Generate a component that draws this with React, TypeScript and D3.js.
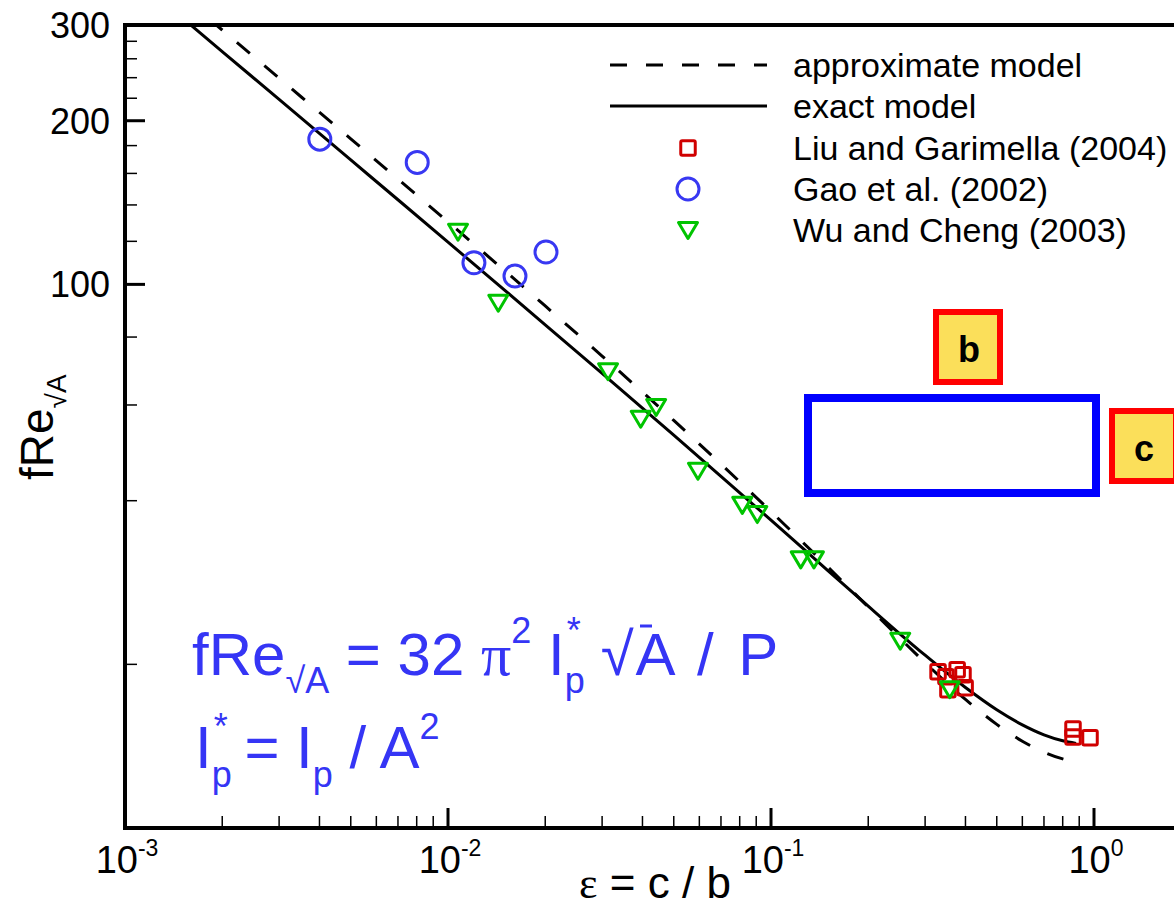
import React from "react";
import * as d3 from "d3";

// Aspect ratio samples for the two model curves
const modelEps = [0.0015, 0.002, 0.003, 0.005, 0.007, 0.01, 0.015, 0.02, 0.03, 0.05, 0.07, 0.1, 0.15, 0.2, 0.25, 0.3, 0.4, 0.5, 0.6, 0.7, 0.8, 0.88];
const exactModel = [309.7, 268.1, 218.9, 169.4, 143.1, 119.6, 97.47, 84.27, 68.58, 52.79, 44.36, 36.83, 29.76, 25.59, 22.79, 20.79, 18.13, 16.5, 15.48, 14.84, 14.47, 14.31];
const approxModel = [339.3, 293.7, 239.5, 185.2, 156.2, 130.3, 105.9, 91.26, 73.83, 56.19, 46.71, 38.21, 30.21, 25.5, 22.37, 20.14, 17.24, 15.51, 14.44, 13.79, 13.4, 13.24];

// Experimental data
const liuEps = [0.329, 0.348, 0.377, 0.393, 0.353, 0.399, 0.861, 0.861, 0.972];
const liuF = [19.38, 18.97, 19.54, 19.13, 17.96, 18.11, 15.21, 14.7, 14.65];

const gaoEps = [0.00401, 0.00803, 0.01203, 0.01612, 0.02011];
const gaoF = [185.0, 167.6, 109.6, 103.6, 114.7];

const wuEps = [0.01074, 0.01431, 0.0313, 0.0395, 0.0441, 0.0594, 0.0815, 0.0907, 0.1236, 0.1358, 0.2513, 0.3576];
const wuF = [125.0, 92.5, 69.2, 56.6, 59.5, 45.4, 39.3, 37.8, 31.2, 31.2, 22.1, 18.0];

// Axis ticks
const xTickExps = [-3, -2, -1, 0];
const yMajorTicks = [100, 200, 300];
const yMinorTicks = [20, 40, 60, 80, 120, 140, 160, 180, 220, 240, 260, 280];

const legendLabels = ["approximate model", "exact model", "Liu and Garimella (2004)", "Gao et al. (2002)", "Wu and Cheng (2003)"];

const W = 1174;
const H = 910;
const SANS = "'Liberation Sans', Arial, Helvetica, sans-serif";
const SERIF = "'Liberation Serif', 'Times New Roman', serif";

const RED_MARK = "#d00000";
const BLUE_MARK = "#3838f2";
const GREEN_MARK = "#00c400";
const EQ_BLUE = "#3535f5";

const left = 125;
const right = W;
const top = 25;
const bottom = 828;

const x = d3.scaleLog().domain([1e-3, 1]).range([left, 1094]);
const y = d3.scaleLog().domain([10, 300]).range([bottom, top]);

const tri = (cx: number, cy: number) =>
  `M${cx - 9.5},${cy - 7.5}L${cx + 9.5},${cy - 7.5}L${cx},${cy + 8.5}Z`;

function Square({ cx, cy }: { cx: number; cy: number }) {
  return (
    <rect x={cx - 7.25} y={cy - 7.25} width={14.5} height={14.5} rx={1.5}
      fill="none" stroke={RED_MARK} strokeWidth={3} />
  );
}
function Circle({ cx, cy }: { cx: number; cy: number }) {
  return <circle cx={cx} cy={cy} r={11} fill="none" stroke={BLUE_MARK} strokeWidth={3} />;
}
function Tri({ cx, cy }: { cx: number; cy: number }) {
  return <path d={tri(cx, cy)} fill="none" stroke={GREEN_MARK} strokeWidth={3} strokeLinejoin="round" />;
}

export default function App() {
  const line = d3
    .line<[number, number]>()
    .x((d) => x(d[0]))
    .y((d) => y(d[1]))
    .curve(d3.curveMonotoneX);

  const exactPath = line(modelEps.map((e, i) => [e, exactModel[i]] as [number, number])) || "";
  const approxPath = line(modelEps.map((e, i) => [e, approxModel[i]] as [number, number])) || "";

  const xAll = x.ticks();
  const xMinor = xAll.filter((t) => {
    const l = Math.log10(t);
    return Math.abs(l - Math.round(l)) > 1e-6;
  });

  const legX0 = 610;
  const legX1 = 767;
  const legMarkX = 688;
  const legTextX = 793;
  const legRows = [65, 106, 148, 189, 230];

  return (
    <svg width={W} height={H} style={{ position: "absolute", left: 0, top: 0, display: "block", background: "#fff" }}
      fontFamily={SANS}>
      <defs>
        <clipPath id="plotArea">
          <rect x={left} y={top} width={right - left} height={bottom - top} />
        </clipPath>
      </defs>
      <rect x={0} y={0} width={W} height={H} fill="#fff" />

      {/* model curves */}
      <g clipPath="url(#plotArea)" fill="none" stroke="#000" strokeWidth={3}>
        <path d={approxPath} strokeDasharray="17 19" />
        <path d={exactPath} />
      </g>

      {/* data points */}
      <g>
        {liuEps.map((e, i) => <Square key={"l" + i} cx={x(e)} cy={y(liuF[i])} />)}
        {gaoEps.map((e, i) => <Circle key={"g" + i} cx={x(e)} cy={y(gaoF[i])} />)}
        {wuEps.map((e, i) => <Tri key={"w" + i} cx={x(e)} cy={y(wuF[i])} />)}
      </g>

      {/* frame and axes */}
      <g stroke="#000">
        <line x1={left} x2={right} y1={top} y2={top} strokeWidth={4} />
        <line x1={left} x2={right} y1={bottom} y2={bottom} strokeWidth={4} />
        <line x1={left} x2={left} y1={top - 2} y2={bottom + 2} strokeWidth={4} />
        {xMinor.map((t, i) => (
          <line key={"xm" + i} x1={x(t)} x2={x(t)} y1={bottom} y2={bottom - 12} strokeWidth={1.5} />
        ))}
        {xTickExps.slice(1).map((p) => (
          <line key={"xM" + p} x1={x(Math.pow(10, p))} x2={x(Math.pow(10, p))} y1={bottom} y2={bottom - 20} strokeWidth={3} />
        ))}
        {yMinorTicks.map((t) => (
          <line key={"ym" + t} x1={left} x2={left + 12} y1={y(t)} y2={y(t)} strokeWidth={1.5} />
        ))}
        {yMajorTicks.filter((t) => t < 300).map((t) => (
          <line key={"yM" + t} x1={left} x2={left + 20} y1={y(t)} y2={y(t)} strokeWidth={3} />
        ))}
      </g>

      {/* tick labels */}
      <g fill="#000">
        {yMajorTicks.map((t) => (
          <text key={"yl" + t} x={110} y={y(t) + 13} fontSize={36} textAnchor="end">{t}</text>
        ))}
        {xTickExps.map((p) => (
          <text key={"xl" + p} x={x(Math.pow(10, p)) + 2} y={873} fontSize={38} textAnchor="middle">
            10<tspan fontSize={23} dy={-17}>{p === 0 ? "0" : String(p)}</tspan>
          </text>
        ))}
      </g>

      {/* axis titles */}
      <text x={655} y={898} fontSize={44} textAnchor="middle" fill="#000">
        <tspan fontFamily={SERIF}>ε</tspan> = c / b
      </text>
      <text transform="translate(53,480) rotate(-90)" fontSize={46} fill="#000">
        fRe<tspan fontSize={28} dy={13}>√A</tspan>
      </text>

      {/* legend */}
      <g>
        <line x1={legX0} x2={legX1} y1={legRows[0]} y2={legRows[0]} stroke="#000" strokeWidth={3} strokeDasharray="17 19" />
        <line x1={legX0} x2={legX1} y1={legRows[1]} y2={legRows[1]} stroke="#000" strokeWidth={3} />
        <Square cx={legMarkX} cy={legRows[2]} />
        <Circle cx={legMarkX} cy={legRows[3]} />
        <Tri cx={legMarkX} cy={legRows[4]} />
        {legendLabels.map((s, i) => (
          <text key={s} x={legTextX} y={legRows[i] + 12} fontSize={34} fill="#000">{s}</text>
        ))}
      </g>

      {/* channel cross-section sketch */}
      <g>
        <rect x={808} y={398} width={288} height={95} fill="none" stroke="#0000ff" strokeWidth={8} />
        <rect x={936} y={312} width={64} height={70} fill="#fbdf5a" stroke="#ff0000" strokeWidth={6} />
        <text x={969} y={362} fontSize={36} fontWeight="bold" textAnchor="middle" fill="#000">b</text>
        <rect x={1112} y={411} width={64} height={70} fill="#fbdf5a" stroke="#ff0000" strokeWidth={6} />
        <text x={1144} y={461} fontSize={36} fontWeight="bold" textAnchor="middle" fill="#000">c</text>
      </g>

      {/* governing relations */}
      <g fill={EQ_BLUE} fontSize={60}>
        <text x={192} y={675}>
          fRe<tspan fontSize={36} dy={18}>√A</tspan>
          <tspan dy={-18}> = 32 </tspan>
          <tspan fontFamily={SERIF}>π</tspan>
          <tspan fontSize={36} dy={-32}>2</tspan>
          <tspan dy={32}> I</tspan>
          <tspan fontSize={36} dy={18}>p</tspan>
          <tspan fontSize={36} dx={-18} dy={-50}>*</tspan>
          <tspan dx={20} dy={32}>√</tspan>
          <tspan dx={2}>A</tspan>
          <tspan dx={8}> / </tspan>
          <tspan dx={8}>P</tspan>
        </text>
        <line x1={640} x2={652} y1={626} y2={626} stroke={EQ_BLUE} strokeWidth={3} />
        <text x={195} y={768}>
          I<tspan fontSize={36} dy={19}>p</tspan>
          <tspan fontSize={36} dx={-18} dy={-48}>*</tspan>
          <tspan dy={29}> = I</tspan>
          <tspan fontSize={36} dy={19}>p</tspan>
          <tspan dy={-19}> / A</tspan>
          <tspan fontSize={36} dy={-29}>2</tspan>
        </text>
      </g>
    </svg>
  );
}
